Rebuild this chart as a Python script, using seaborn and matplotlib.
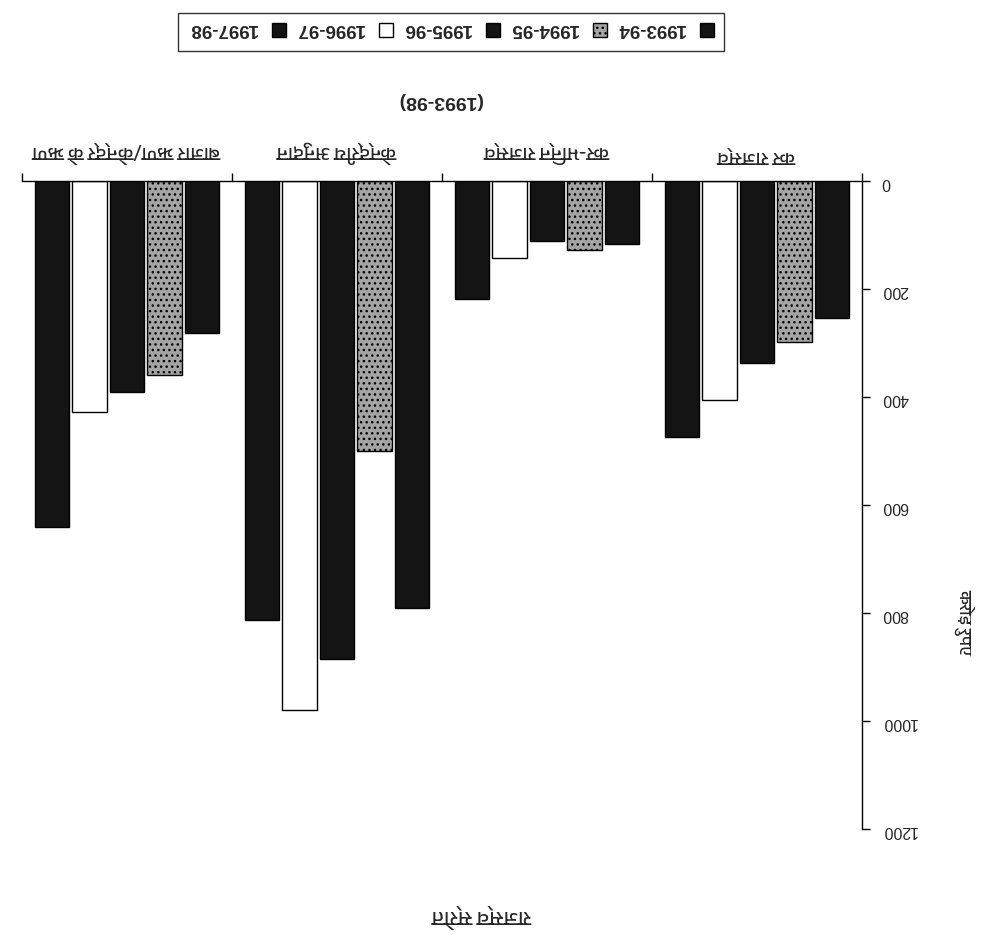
import numpy as np
import pandas as pd
import seaborn as sns
import matplotlib
matplotlib.use("Agg")
import matplotlib.pyplot as plt
from matplotlib.patches import Patch
from matplotlib import font_manager as fm
from matplotlib.ft2font import FT2Font

# Revenue sources, 1993-98, in crore rupees
categories = ["कर राजस्व", "कर-भिन्न राजस्व", "केन्द्रीय अनुदान", "बाजार ऋण/केन्द्र के ऋण"]
years = ["1993-94", "1994-95", "1995-96", "1996-97", "1997-98"]
v_1993_94 = [254, 117, 791, 281]
v_1994_95 = [298, 128, 500, 359]
v_1995_96 = [337, 111, 885, 391]
v_1996_97 = [405, 143, 980, 428]
v_1997_98 = [474, 219, 813, 641]
y_ticks = [0, 200, 400, 600, 800, 1000, 1200]
title = "राजस्व स्रोत"
period = "(1993-98)"
y_label = "करोड़ रुपए"

series = [v_1993_94, v_1994_95, v_1995_96, v_1996_97, v_1997_98]
df = pd.DataFrame(
    [(c, y, v) for y, vals in zip(years, series) for c, v in zip(categories, vals)],
    columns=["category", "year", "value"],
)


def devanagari_family():
    fonts = sorted(fm.fontManager.ttflist,
                   key=lambda f: 0 if "Devanagari" in f.name else 1)
    for f in fonts:
        try:
            if ord("क") in FT2Font(f.fname).get_charmap():
                return f.name
        except Exception:
            continue
    return None


sns.set_theme(style="white")
hindi = devanagari_family()
fam = ([hindi] if hindi else []) + ["Liberation Sans", "DejaVu Sans"]
plt.rcParams["font.family"] = fam

colors = ["#141414", "#a4a4a4", "#141414", "#ffffff", "#141414"]
dots = "..."

fig = plt.figure(figsize=(9.87, 9.44), dpi=100)
ax = fig.add_axes([22 / 987, 115 / 944, 840 / 987, 648 / 944])

sns.barplot(data=df, x="category", y="value", hue="year", order=categories,
            hue_order=years, palette=colors, width=0.89, gap=0.08,
            edgecolor="black", linewidth=1.0, saturation=1, legend=False, ax=ax)

for bar in ax.containers[1]:
    bar.set_hatch(dots)

# whole chart is drawn turned half a circle
ax.set_xlim(3.5, -0.5)
ax.set_ylim(1200, 0)
ax.set_yticks(y_ticks)
ax.yaxis.tick_right()
ax.xaxis.tick_top()
ax.set_xlabel("")
ax.set_ylabel("")
for side in ["left", "bottom"]:
    ax.spines[side].set_visible(False)
for side in ["top", "right"]:
    ax.spines[side].set_visible(True)
    ax.spines[side].set_color("black")
    ax.spines[side].set_linewidth(1.0)

ax.tick_params(axis="y", which="major", right=True, left=False, length=6,
               width=1, color="black", labelsize=11.5, pad=8)
ax.set_yticklabels([str(t) for t in y_ticks], rotation=180, family="Liberation Sans")

ax.set_xticks(range(len(categories)))
ax.set_xticklabels(categories, rotation=180, fontsize=14)
ax.set_xticks([-0.5, 0.5, 1.5, 2.5, 3.5], minor=True)
ax.tick_params(axis="x", which="major", top=True, bottom=False, length=0, pad=13)
ax.tick_params(axis="x", which="minor", top=True, bottom=False, length=6,
               width=1, color="black")
ax.grid(False)

handles = [Patch(facecolor=c, edgecolor="black", linewidth=1.0,
                 hatch=(dots if i == 1 else None), label=y)
           for i, (c, y) in enumerate(zip(colors, years))][::-1]
leg = fig.legend(handles=handles, ncol=5, loc="center",
                 bbox_to_anchor=(451 / 987, 1 - 32 / 944), frameon=True,
                 fancybox=False, edgecolor="black", markerfirst=False,
                 handlelength=0.75, handleheight=0.75, handletextpad=0.8,
                 columnspacing=0.5, borderpad=0.55,
                 prop={"family": "Liberation Sans", "weight": "bold", "size": 13.5})
leg.get_frame().set_linewidth(1.0)
for t in leg.get_texts():
    t.set_rotation(180)
    t.set_verticalalignment("bottom")

fig.text(440 / 987, 1 - 101 / 944, period, rotation=180, ha="center", va="center",
         fontsize=14, fontweight="bold", family="Liberation Sans")
fig.text(965 / 987, 1 - 622 / 944, y_label, rotation=270, ha="center",
         va="center", fontsize=12.5)
fig.text(482 / 987, 1 - 916 / 944, title, rotation=180, ha="center", va="center",
         fontsize=15, fontweight="bold")

fig.savefig("out.png", dpi=100, facecolor="white")
